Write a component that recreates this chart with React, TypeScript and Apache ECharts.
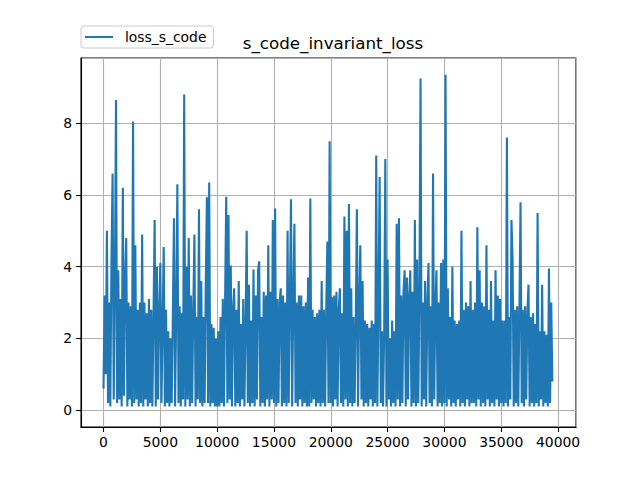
import { useRef, useEffect } from "react";
import * as echarts from "echarts";

const TITLE = "s_code_invariant_loss";
const SERIES_NAME = "loss_s_code";
const STEP = 100; // logging stride of the loss
const X_TICKS = [0, 5000, 10000, 15000, 20000, 25000, 30000, 35000, 40000];
const Y_TICKS = [0, 2, 4, 6, 8];

// loss values, 20 per row (2000 steps per row)
const lossValues = [
  0.6, 3.2, 1.0, 5.0, 0.2, 3.0, 0.1, 4.2, 6.6, 0.3, 3.4, 8.65, 0.2, 3.9, 0.3, 3.1, 0.1, 6.2, 0.4, 3.6,
  4.8, 0.1, 3.0, 0.3, 2.9, 0.1, 8.05, 0.2, 4.6, 0.3, 2.8, 0.1, 3.0, 0.2, 4.9, 0.1, 3.0, 0.3, 2.7, 0.1,
  3.1, 0.2, 2.8, 0.1, 2.6, 5.3, 0.1, 4.0, 0.3, 2.7, 4.1, 0.2, 2.4, 4.55, 0.1, 2.8, 0.2, 2.2, 0.1, 2.0,
  0.2, 2.6, 5.35, 0.1, 2.8, 6.3, 0.2, 2.9, 0.1, 2.7, 0.3, 8.8, 0.1, 4.0, 0.3, 4.8, 0.1, 3.2, 0.2, 2.8,
  4.9, 0.1, 2.6, 0.3, 5.6, 0.2, 3.6, 0.1, 2.6, 0.2, 3.5, 5.94, 0.2, 6.35, 0.1, 2.4, 0.2, 2.3, 0.1, 2.0,
  0.1, 2.2, 0.1, 2.6, 0.2, 3.1, 0.1, 3.1, 5.95, 0.2, 5.44, 0.3, 4.03, 0.1, 2.8, 3.4, 0.1, 2.8, 0.2, 3.6,
  0.1, 2.4, 0.3, 3.1, 0.1, 2.3, 5.0, 0.2, 3.5, 0.1, 2.5, 0.2, 3.92, 0.1, 3.2, 0.3, 3.9, 4.15, 0.1, 2.6,
  0.2, 3.3, 0.1, 3.2, 0.3, 4.6, 0.1, 3.3, 0.3, 5.3, 0.2, 5.62, 0.1, 3.1, 0.2, 3.0, 3.4, 0.1, 3.2, 0.2,
  3.0, 0.1, 5.0, 0.2, 3.0, 5.88, 0.1, 3.0, 5.2, 0.2, 3.0, 0.1, 3.2, 0.3, 3.2, 0.1, 2.9, 0.2, 3.0, 0.1,
  3.7, 0.1, 5.9, 0.2, 2.8, 0.3, 2.6, 0.1, 2.7, 0.2, 2.8, 0.1, 3.6, 0.2, 2.8, 0.1, 2.8, 4.7, 0.2, 7.5,
  0.2, 3.15, 0.1, 3.2, 0.3, 3.3, 0.1, 2.8, 3.4, 0.2, 2.7, 0.1, 5.4, 0.3, 5.0, 0.1, 5.75, 0.2, 3.4, 0.1,
  2.6, 0.2, 2.5, 5.6, 0.1, 3.0, 4.6, 0.3, 3.6, 0.1, 2.5, 0.2, 2.4, 0.1, 2.3, 0.3, 2.5, 0.1, 2.4, 0.2,
  7.1, 0.1, 3.0, 6.5, 0.2, 2.2, 0.1, 2.2, 7.0, 0.1, 4.2, 0.3, 2.0, 0.1, 2.5, 0.2, 2.2, 0.1, 5.2, 0.3,
  5.35, 0.1, 3.2, 0.2, 3.3, 3.9, 0.1, 3.7, 0.3, 3.2, 3.9, 0.1, 3.3, 0.2, 5.3, 0.1, 4.2, 0.2, 3.2, 9.25,
  0.1, 3.0, 0.3, 3.6, 0.1, 3.0, 4.1, 0.2, 2.9, 0.1, 6.6, 0.3, 2.8, 3.9, 0.1, 3.0, 0.2, 4.1, 0.1, 4.2,
  0.2, 9.35, 0.1, 3.4, 0.3, 2.6, 0.1, 4.0, 0.2, 2.5, 0.1, 2.4, 0.3, 2.5, 0.1, 5.0, 0.2, 2.8, 0.1, 3.0,
  0.3, 2.9, 0.1, 3.6, 0.2, 2.8, 0.2, 3.0, 0.1, 5.1, 0.3, 3.9, 0.1, 3.0, 0.2, 2.9, 0.1, 4.6, 0.3, 2.8,
  0.1, 3.6, 0.2, 2.5, 0.1, 3.9, 0.3, 3.2, 0.1, 3.1, 0.2, 2.5, 0.1, 2.5, 0.2, 7.6, 0.1, 2.6, 0.3, 5.3,
  4.2, 0.1, 2.8, 0.2, 2.9, 0.1, 2.8, 5.8, 0.2, 2.8, 0.1, 2.9, 0.3, 2.7, 3.5, 0.1, 2.6, 0.2, 2.7, 0.1,
  2.4, 0.2, 5.5, 0.1, 2.2, 0.3, 3.5, 0.1, 2.2, 0.2, 2.1, 0.1, 3.95, 0.2, 3.0, 0.8,
];

const FONT = "DejaVu Sans";

export default function App() {
  const chartRef = useRef<HTMLDivElement>(null);

  useEffect(() => {
    if (!chartRef.current) return;
    const chart = echarts.init(chartRef.current, undefined, { renderer: "svg" });

    const points = lossValues.map((v, i) => [i * STEP, v]);

    chart.setOption({
      animation: false,
      backgroundColor: "#fff",
      title: {
        text: TITLE,
        left: 328,
        top: 29,
        textAlign: "center",
        textStyle: { fontFamily: FONT, fontSize: 16.7, fontWeight: "normal", color: "#000" },
      },
      legend: {
        left: 81,
        top: 26,
        orient: "horizontal",
        padding: [4, 7, 4, 4],
        borderColor: "#cccccc",
        borderWidth: 1,
        borderRadius: 3,
        backgroundColor: "#fff",
        itemWidth: 28,
        itemHeight: 2,
        data: [{ name: SERIES_NAME, icon: "rect" }],
        textStyle: { fontFamily: FONT, fontSize: 13.9, color: "#000", padding: [0, 0, 0, 7] },
      },
      grid: {
        left: 81,
        right: 64,
        top: 58,
        bottom: 53,
        show: true,
        borderColor: "#000",
        borderWidth: 1.1,
        backgroundColor: "transparent",
      },
      xAxis: {
        type: "value",
        min: -1980,
        max: 41580,
        minInterval: X_TICKS[1] - X_TICKS[0],
        maxInterval: X_TICKS[1] - X_TICKS[0],
        axisLine: { show: true, onZero: false, lineStyle: { color: "#000", width: 1.1 } },
        axisTick: { show: true, inside: false, length: 5, lineStyle: { color: "#000", width: 1.1 } },
        axisLabel: {
          margin: 8,
          showMinLabel: false,
          showMaxLabel: false,
          fontFamily: FONT,
          fontSize: 13.9,
          color: "#000",
          formatter: (v: number) => (X_TICKS.includes(v) ? String(v) : ""),
        },
        splitLine: { show: true, lineStyle: { color: "#b0b0b0", width: 1.1 } },
      },
      yAxis: {
        type: "value",
        min: -0.47,
        max: 9.82,
        minInterval: Y_TICKS[1] - Y_TICKS[0],
        maxInterval: Y_TICKS[1] - Y_TICKS[0],
        axisLine: { show: true, onZero: false, lineStyle: { color: "#000", width: 1.1 } },
        axisTick: { show: true, inside: false, length: 5, lineStyle: { color: "#000", width: 1.1 } },
        axisLabel: {
          margin: 9,
          showMinLabel: false,
          showMaxLabel: false,
          fontFamily: FONT,
          fontSize: 13.9,
          color: "#000",
          formatter: (v: number) => (Y_TICKS.includes(v) ? String(v) : ""),
        },
        splitLine: { show: true, lineStyle: { color: "#b0b0b0", width: 1.1 } },
      },
      series: [
        {
          name: SERIES_NAME,
          type: "line",
          data: points,
          showSymbol: false,
          color: "#1f77b4",
          lineStyle: { color: "#1f77b4", width: 2.1 },
        },
      ],
    });

    return () => {
      chart.dispose();
    };
  }, []);

  return (
    <div
      ref={chartRef}
      style={{ position: "fixed", left: 0, top: 0, width: "640px", height: "480px" }}
    />
  );
}
